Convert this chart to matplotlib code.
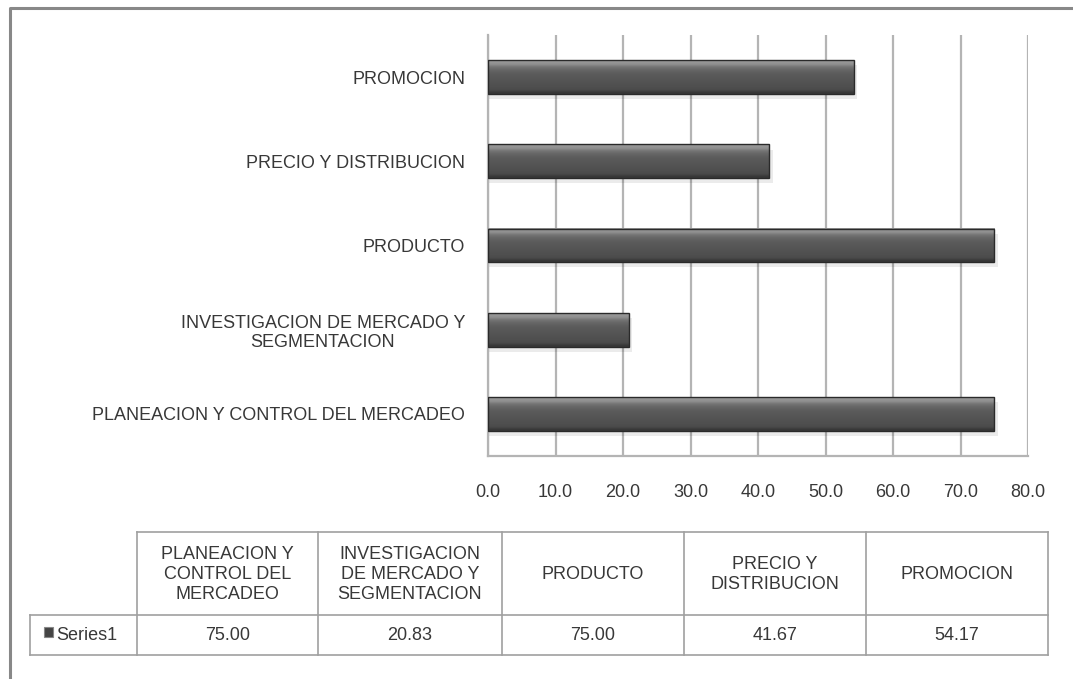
import numpy as np
import matplotlib
matplotlib.use("Agg")
from matplotlib import pyplot as plt
from matplotlib.patches import Rectangle

plt.rcParams["font.family"] = ["Liberation Sans", "DejaVu Sans"]

# datos de la gráfica
categorias = [
    "PLANEACION Y CONTROL DEL MERCADEO",
    "INVESTIGACION DE MERCADO Y\nSEGMENTACION",
    "PRODUCTO",
    "PRECIO Y DISTRIBUCION",
    "PROMOCION",
]
valores = [75.00, 20.83, 75.00, 41.67, 54.17]
encabezados_tabla = [
    "PLANEACION Y\nCONTROL DEL\nMERCADEO",
    "INVESTIGACION\nDE MERCADO Y\nSEGMENTACION",
    "PRODUCTO",
    "PRECIO Y\nDISTRIBUCION",
    "PROMOCION",
]
serie = "Series1"
ticks_x = [0, 10, 20, 30, 40, 50, 60, 70, 80]

W, H = 1073, 679
fig = plt.figure(figsize=(W / 100, H / 100), dpi=100)
texto = "#383838"
fs = 13

# marco exterior
fondo = fig.add_axes([0, 0, 1, 1])
fondo.set_xlim(0, W)
fondo.set_ylim(H, 0)
fondo.axis("off")
fondo.plot([9.5, 9.5, W], [H, 7.5, 7.5], color="#888888", lw=2.2)

# grafica de barras
ax = fig.add_axes([488 / W, (H - 456) / H, 540 / W, 421 / H])
y = np.arange(len(valores))
alto = 0.40
ax.set_xlim(0, 80)
ax.set_ylim(-0.5, len(valores) - 0.5)

# degradado vertical para dar relieve a las barras
grad = np.array([0.60, 0.56, 0.45, 0.40, 0.37, 0.35, 0.34, 0.33, 0.32, 0.31, 0.29, 0.22]).reshape(-1, 1)
for yi, v in zip(y, valores):
    # sombra
    ax.add_patch(Rectangle((0, yi - alto / 2 - 0.06), v + 0.5, alto, color="#000000",
                           alpha=0.08, lw=0, zorder=2))
    ax.imshow(grad, cmap="gray", vmin=0, vmax=1, aspect="auto",
              extent=(0, v, yi - alto / 2, yi + alto / 2), origin="upper",
              interpolation="bilinear", zorder=3)
    ax.add_patch(Rectangle((0, yi - alto / 2), v, alto, fill=False,
                           edgecolor="#2a2a2a", lw=1.0, zorder=4))

ax.set_yticks(y)
ax.set_yticklabels(categorias, fontsize=fs, color=texto, multialignment="center")
ax.set_xticks(ticks_x)
ax.set_xticklabels([f"{t:.1f}" for t in ticks_x], fontsize=fs, color=texto)
ax.tick_params(axis="both", length=0)
ax.tick_params(axis="y", pad=16.5)
ax.tick_params(axis="x", pad=20)
ax.grid(axis="x", color="#b4b4b4", lw=1.6)
ax.set_axisbelow(True)
for lado in ["top", "right"]:
    ax.spines[lado].set_visible(False)
for lado in ["left", "bottom"]:
    ax.spines[lado].set_color("#b4b4b4")
    ax.spines[lado].set_linewidth(1.6)

# tabla de datos
cols = [137, 318, 502, 684, 866, 1048]
y0, y1, y2 = 532, 615, 655
borde = "#a0a0a0"
for xc in cols:
    fondo.plot([xc, xc], [y0, y2], color=borde, lw=1.2)
fondo.plot([cols[0], cols[-1]], [y0, y0], color=borde, lw=1.2)
fondo.plot([30, cols[-1]], [y1, y1], color=borde, lw=1.2)
fondo.plot([30, cols[-1]], [y2, y2], color=borde, lw=1.2)
fondo.plot([30, 30], [y1, y2], color=borde, lw=1.2)

for i, (enc, v) in enumerate(zip(encabezados_tabla, valores)):
    xm = (cols[i] + cols[i + 1]) / 2
    fondo.text(xm, (y0 + y1) / 2 + 1, enc, ha="center", va="center", fontsize=fs,
               color=texto, linespacing=1.2)
    fondo.text(xm, (y1 + y2) / 2 + 1, f"{v:.2f}", ha="center", va="center",
               fontsize=fs, color=texto)

fondo.add_patch(Rectangle((44, 627), 9, 10, facecolor="#444444", edgecolor="#888888", lw=0.8))
fondo.text(56, (y1 + y2) / 2 + 1, serie, ha="left", va="center", fontsize=fs, color=texto)

fig.savefig("out.png", dpi=100)
